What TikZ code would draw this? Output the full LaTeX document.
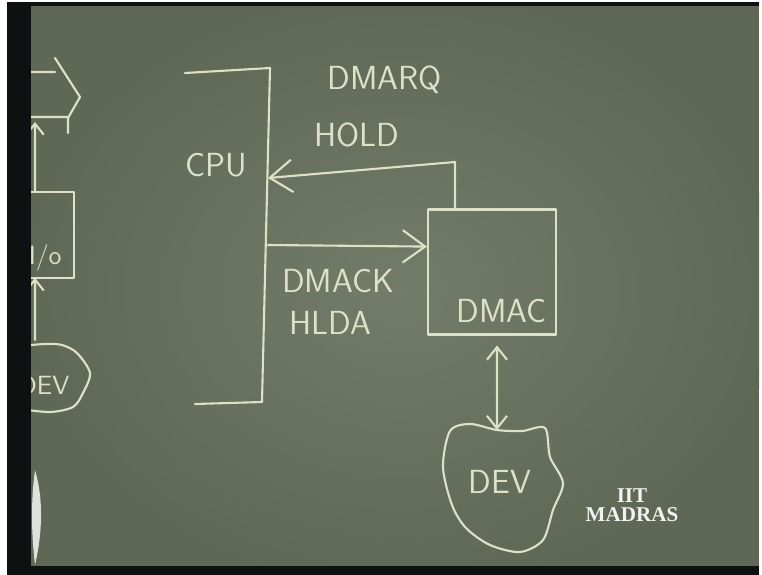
\documentclass[tikz,border=0pt]{standalone}
\usepackage{fontspec}
\setmainfont{Liberation Serif}
\usetikzlibrary{arrows.meta,positioning,calc}
\definecolor{board}{RGB}{94,104,84}
\definecolor{boardlight}{RGB}{114,124,104}
\definecolor{chalk}{RGB}{222,225,198}
\definecolor{frame}{RGB}{14,17,17}
\begin{document}
\begin{tikzpicture}[x=0.02cm,y=-0.02cm,font=\sffamily,
chalkline/.style={draw=chalk,line width=1.2pt,line cap=round,line join=round},
sig/.style={chalkline,-{Straight Barb[length=4.5mm,width=6.5mm]}},
sigs/.style={chalkline,-{Straight Barb[length=2.2mm,width=3.5mm]}},
lbl/.style={text=chalk,font=\sffamily\fontsize{19}{20}\selectfont,inner sep=0pt},
lbls/.style={text=chalk,font=\sffamily\fontsize{15}{16}\selectfont,inner sep=0pt}]
\useasboundingbox (0,0) rectangle (762,575);
\fill[white] (0,0) rectangle (762,575);
\begin{scope}
\clip (7,2) rectangle (759,575);
\fill[board] (7,2) rectangle (759,575);
\shade[inner color=boardlight,outer color=board] (400,290) ellipse (380 and 300);
\end{scope}
% left: bus, I/O and its device, cut by the frame
\draw[chalkline] (20,72) -- (55,72) (55,58) -- (80,97) -- (68,118) -- (68,133) (20,117) -- (68,117);
\node[minimum width=1.26cm,minimum height=1.7cm] (io) at (42,235) {};
\draw[chalkline] (io.north west) -- (io.north east) -- (io.south east) -- ([xshift=-0.1cm]io.south east) -- (io.south west);
\node[lbls,anchor=east] (iol) at (62,258) {I/o};
\coordinate (bus) at (35,122);
\draw[sigs] ([xshift=-0.14cm]io.north) -- (bus);
\node[lbls,anchor=west] (ldev) at (18,385) {DEV};
\draw[chalkline] plot[smooth] coordinates {(20,346) (45,344) (62,345) (77,353) (90,373) (83,393) (73,407) (50,412) (20,409)};
\draw[sigs] (35,340) -- ([xshift=-0.14cm]io.south);
\fill[frame] (7,2) rectangle (31,575);
\fill[frame] (7,2) rectangle (759,6);
\fill[frame] (7,566) rectangle (759,575);
\fill[white!80!board] (35,470) .. controls (44,500) and (42,535) .. (35,565) .. controls (31,530) and (31,500) .. (35,470);
% CPU
\coordinate (cpuTL) at (185,73);
\coordinate (cpuTR) at (270,68);
\coordinate (cpuBR) at (262,402);
\coordinate (cpuBL) at (195,404);
\draw[chalkline] (cpuTL) -- (cpuTR) -- (cpuBR) -- (cpuBL);
\node[lbl] (cpu) at (216,165) {CPU};
% DMAC
\node[chalkline,minimum width=2.56cm,minimum height=2.5cm] (dmac) at (492,272) {};
\node[lbl,anchor=south east] (dmacl) at ([shift={(-0.2cm,0.25cm)}]dmac.south east) {DMAC};
\coordinate (holdup) at (455,162);
\coordinate (cpuhold) at (268,178);
\coordinate (cpuack) at (268,245);
\draw[sig] (dmac.north -| holdup) -- (holdup) -- (cpuhold);
\draw[sig] (cpuack) -- ($(dmac.north west)!0.3!(dmac.south west)$);
\node[lbl] (dmarq) at (385,80) {DMARQ};
\node[lbl] (hold) at (357,135) {HOLD};
\node[lbl] (dmack) at (338,281) {DMACK};
\node[lbl] (hlda) at (330,323) {HLDA};
% device
\node[lbl] (dev) at (500,482) {DEV};
\coordinate (devtop) at (497,430);
\draw[chalkline] plot[smooth cycle] coordinates {(450,431) (470,424) (devtop) (522,431) (545,428) (550,457) (563,483) (553,510) (543,540) (520,552) (490,545) (466,528) (452,505) (443,467)};
\draw[chalkline,{Straight Barb[length=2.5mm,width=4mm]}-{Straight Barb[length=2.5mm,width=4mm]}] ([shift={(0.1cm,-0.2cm)}]dmac.south) -- (devtop);
% logo
\node[text=white!92!board,font=\bfseries\fontsize{12}{12}\selectfont,align=center,inner sep=0pt] (logo) at (632,505) {IIT\\[-1pt]MADRAS};
\end{tikzpicture}
\end{document}
